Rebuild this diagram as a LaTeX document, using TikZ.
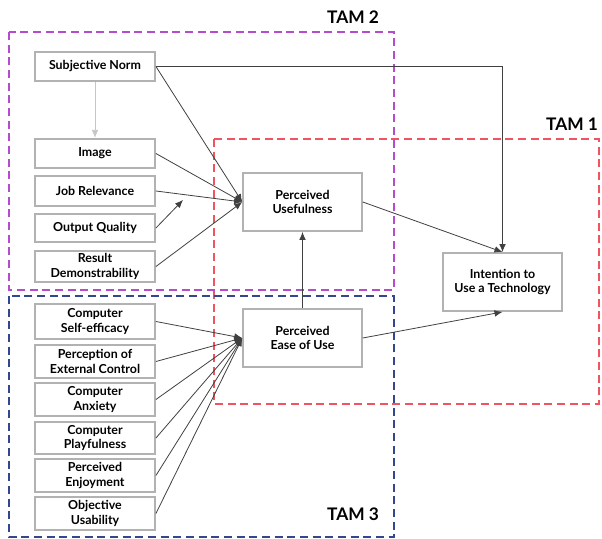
\documentclass[tikz,border=0pt]{standalone}
\usepackage{fontspec}
\setmainfont{Lato}
\usetikzlibrary{arrows.meta}
\definecolor{tamviolet}{HTML}{B44CCB}
\definecolor{tamrouge}{HTML}{EE5560}
\definecolor{tambleu}{HTML}{34468E}
\tikzset{pixel/.style={x=0.75pt,y=-0.75pt}}
\tikzset{boite/.style={draw=gray!60, line width=1.4pt, fill=white, align=center, inner sep=1pt,
  minimum width=90pt, font=\fontsize{9.3}{10.8}\selectfont\bfseries}}
\tikzset{fleche/.style={-{Latex[length=6pt,width=5pt]}, draw=black!75, line width=0.6pt}}
\tikzset{cadre/.style={dash pattern=on 6pt off 3.5pt, line width=1pt}}
\tikzset{titre/.style={font=\fontsize{13}{15}\selectfont\bfseries}}

\begin{document}
\begin{tikzpicture}[pixel]
	\useasboundingbox (0,0) rectangle (602,538);
	% les trois cadres TAM
	\draw[cadre, draw=tamviolet] (9,32) rectangle (394,290);
	\draw[cadre, draw=tamrouge] (214,139) rectangle (599,404);
	\draw[cadre, draw=tambleu] (9,296) rectangle (394,537);
	\node[titre] (tam2) at (353,17) {TAM 2};
	\node[titre] (tam1) at (572,124) {TAM 1};
	\node[titre] (tam3) at (353,514) {TAM 3};
	% colonne du haut
	\node[boite, minimum height=22pt] (sn) at (95,66.5) {Subjective Norm};
	\node[boite, minimum height=22pt] (img) at (95,153.5) {Image};
	\node[boite, minimum height=22pt] (jr) at (95,191) {Job Relevance};
	\node[boite, minimum height=21pt] (oq) at (95,228) {Output Quality};
	\node[boite, minimum height=23pt] (rd) at (95,266.5) {Result\\Demonstrability};
	% colonne du bas
	\node[boite, minimum height=26pt] (cse) at (95,321.5) {Computer\\Self-efficacy};
	\node[boite, minimum height=25pt] (pec) at (95,361.5) {Perception of\\External Control};
	\node[boite, minimum height=25pt] (ca) at (95,399.5) {Computer\\Anxiety};
	\node[boite, minimum height=24pt] (cp) at (95,438) {Computer\\Playfulness};
	\node[boite, minimum height=25pt] (pe) at (95,475.5) {Perceived\\Enjoyment};
	\node[boite, minimum height=25pt] (ou) at (95,513.5) {Objective\\Usability};
	% noyau du modele
	\node[boite, minimum width=89pt, minimum height=43.5pt] (pu) at (302.5,202) {Perceived\\Usefulness};
	\node[boite, minimum width=89pt, minimum height=43.5pt] (peou) at (302.5,338) {Perceived\\Ease of Use};
	\node[boite, minimum width=89pt, minimum height=43.5pt] (itu) at (502.5,282) {Intention to\\Use a Technology};
	% fleches
	\draw[fleche, draw=gray!45] (sn.south) -- (img.north);
	\draw[fleche] (sn.east) -| (itu.north);
	\draw[fleche] (sn.east) -- (pu.west);
	\foreach \n in {img,jr,rd} \draw[fleche] (\n.east) -- (pu.west);
	\coordinate (oqfin) at (183,200);
	\draw[fleche] (oq.east) -- (oqfin);
	\draw[fleche] (pu.east) -- (itu.north);
	\draw[fleche] (peou.north) -- (pu.south);
	\draw[fleche] (peou.east) -- (itu.south);
	\foreach \n in {cse,pec,ca,cp,pe,ou} \draw[fleche] (\n.east) -- (peou.west);
\end{tikzpicture}
\end{document}
